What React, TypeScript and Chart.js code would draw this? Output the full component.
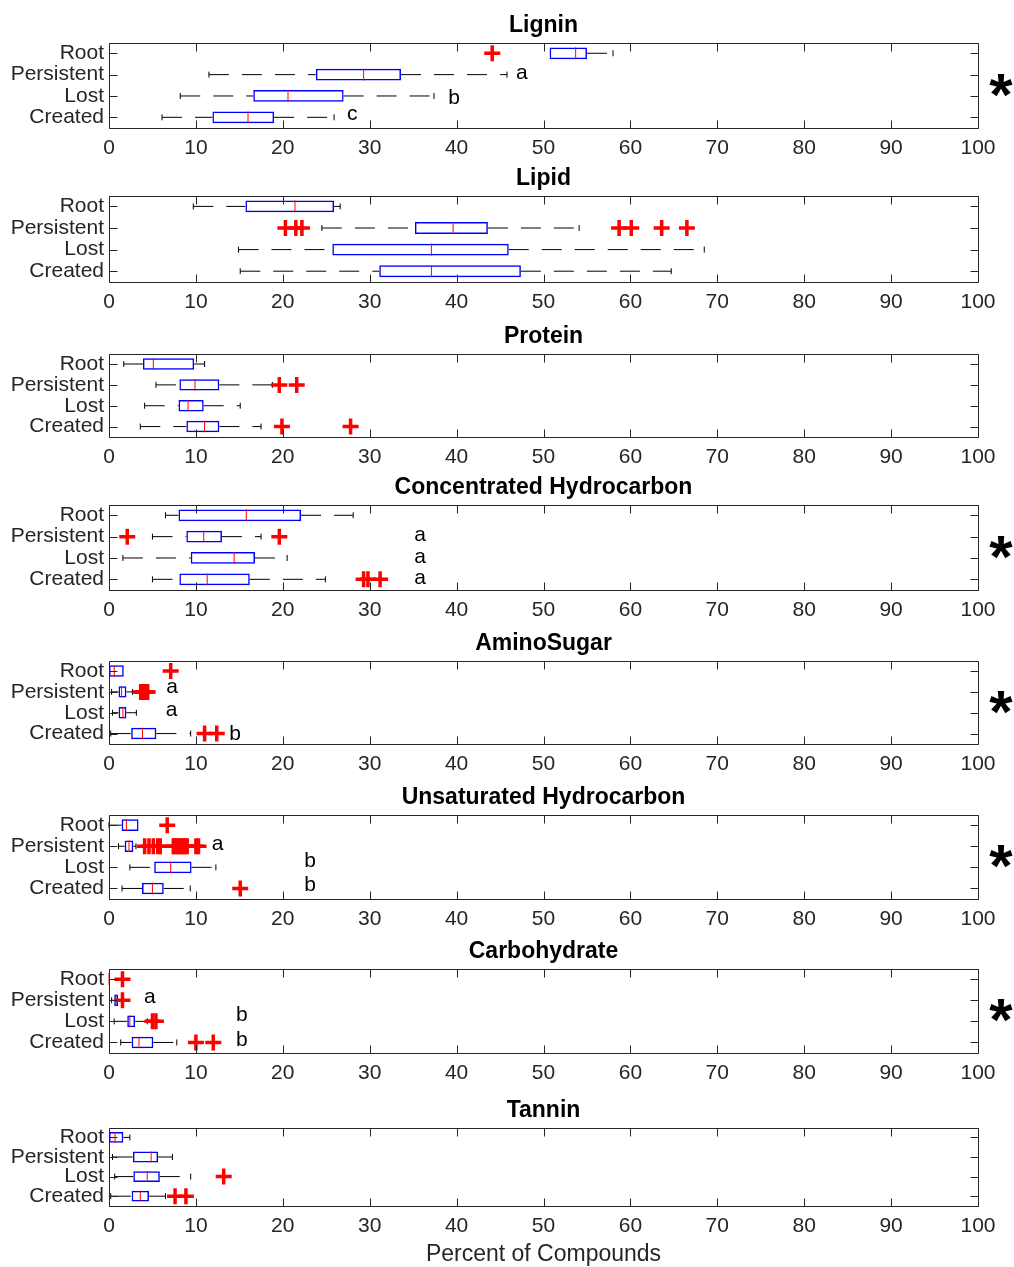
import React, { useEffect, useRef } from 'react';
import { Chart, registerables } from 'chart.js';

Chart.register(...registerables);

// ---------------- data ----------------
const categories = ['Root', 'Persistent', 'Lost', 'Created'];
const xMin = 0;
const xMax = 100;
const xStep = 10;
const xAxisLabel = 'Percent of Compounds';

const panelTitles = [
  'Lignin',
  'Lipid',
  'Protein',
  'Concentrated Hydrocarbon',
  'AminoSugar',
  'Unsaturated Hydrocarbon',
  'Carbohydrate',
  'Tannin',
];

// each row: [lower whisker, q1, median, q3, upper whisker] for Root, Persistent, Lost, Created
const ligninStats = [
  [50.7, 50.7, 53.7, 55.0, 58.0],
  [11.5, 23.8, 29.3, 33.6, 45.8],
  [8.2, 16.6, 20.6, 27.0, 37.4],
  [6.1, 11.9, 16.0, 19.0, 25.9],
];
const ligninOutliers = [[44.1], [], [], []];
const ligninLetters: [string, number, number][] = [['a', 47.5, 0.91], ['b', 39.7, 2.1], ['c', 28.0, 2.85]];

const lipidStats = [
  [9.7, 15.7, 21.4, 25.9, 26.6],
  [24.5, 35.2, 39.6, 43.6, 54.1],
  [14.9, 25.7, 37.1, 46.0, 68.5],
  [15.1, 31.1, 37.1, 47.4, 64.7],
];
const lipidOutliers = [[], [20.3, 21.5, 22.2, 58.7, 60.1, 63.6, 66.5], [], []];
const lipidLetters: [string, number, number][] = [];

const proteinStats = [
  [1.7, 3.9, 5.1, 9.8, 11.0],
  [5.4, 8.1, 9.9, 12.7, 18.8],
  [4.1, 8.0, 9.1, 10.9, 15.1],
  [3.6, 8.9, 11.0, 12.7, 17.5],
];
const proteinOutliers = [[], [19.6, 21.6], [], [19.9, 27.8]];
const proteinLetters: [string, number, number][] = [];

const concHydroStats = [
  [6.5, 8.0, 15.8, 22.1, 28.1],
  [5.0, 8.9, 10.9, 13.0, 17.5],
  [1.6, 9.4, 14.4, 16.8, 20.5],
  [5.0, 8.1, 11.3, 16.2, 24.9],
];
const concHydroOutliers = [[], [2.1, 19.6], [], [29.3, 29.8, 31.2]];
const concHydroLetters: [string, number, number][] = [['a', 35.8, 0.91], ['a', 35.8, 1.96], ['a', 35.8, 2.97]];

const aminoStats = [
  [0.0, 0.0, 0.6, 1.7, 1.7],
  [0.3, 1.1, 1.45, 2.0, 2.7],
  [0.4, 1.1, 1.6, 2.0, 3.15],
  [0.2, 2.55, 3.85, 5.45, 9.4],
];
const aminoOutliers = [[7.1], [3.65, 3.85, 4.0, 4.15, 4.3, 4.45], [], [11.0, 12.4]];
const aminoLetters: [string, number, number][] = [['a', 7.25, 0.78], ['a', 7.2, 1.9], ['b', 14.5, 3.02]];

const unsatHydroStats = [
  [0.0, 1.45, 2.0, 3.4, 3.4],
  [1.1, 1.8, 2.3, 2.8, 3.1],
  [2.4, 5.2, 7.1, 9.5, 12.3],
  [1.5, 3.8, 5.0, 6.3, 9.35],
];
const unsatHydroOutliers = [
  [6.7],
  [4.1, 4.6, 5.1, 5.6, 5.9, 7.4, 7.6, 7.8, 8.0, 8.2, 8.4, 8.6, 8.8, 9.0, 10.0, 10.3],
  [],
  [15.1],
];
const unsatHydroLetters: [string, number, number][] = [['a', 12.5, 0.9], ['b', 23.15, 1.7], ['b', 23.15, 2.85]];

const carbStats = [
  [0.0, 0.0, 0.0, 0.0, 0.0],
  [0.3, 0.6, 0.77, 1.04, 1.04],
  [0.6, 2.1, 2.4, 3.0, 4.4],
  [1.35, 2.6, 3.45, 5.1, 7.8],
];
const carbOutliers = [[1.55], [1.55], [5.0, 5.4], [10.0, 12.0]];
const carbLetters: [string, number, number][] = [['a', 4.7, 0.85], ['b', 15.3, 1.7], ['b', 15.3, 2.88]];

const tanninStats = [
  [0.0, 0.0, 0.7, 1.65, 2.4],
  [0.4, 2.75, 4.85, 5.65, 7.3],
  [0.65, 2.8, 4.4, 5.85, 9.4],
  [0.2, 2.6, 3.6, 4.6, 6.5],
];
const tanninOutliers = [[], [], [13.2], [7.6, 8.85]];
const tanninLetters: [string, number, number][] = [];

const panelStats = [ligninStats, lipidStats, proteinStats, concHydroStats, aminoStats, unsatHydroStats, carbStats, tanninStats];
const panelOutliers = [ligninOutliers, lipidOutliers, proteinOutliers, concHydroOutliers, aminoOutliers, unsatHydroOutliers, carbOutliers, tanninOutliers];
const panelLetters = [ligninLetters, lipidLetters, proteinLetters, concHydroLetters, aminoLetters, unsatHydroLetters, carbLetters, tanninLetters];
const panelSignificant = [true, false, false, true, true, true, true, false];

// ---------------- layout / style ----------------
const PLOT_TOPS = [42, 195, 353, 504, 660, 814, 968, 1127];
const PLOT_HEIGHTS = [86, 87, 84, 86, 84, 85, 85, 79];
const WIDTH = 1014;
const LEFT = 109;
const RIGHT_PAD = 36;
const TITLE_SPACE = 30;
const FONT = '"Liberation Sans", Arial, Helvetica, sans-serif';
const AXIS_COLOR = '#262626';

const decorPlugin = {
  id: 'decor',
  afterDraw(chart: any, _args: any, opts: any) {
    const { ctx, chartArea: a, scales } = chart;
    const xs = scales.x;
    const ys = scales.y;
    ctx.save();
    ctx.strokeStyle = AXIS_COLOR;
    ctx.lineWidth = 1;
    const L = Math.round(a.left) + 0.5;
    const R = Math.round(a.right) + 0.5;
    const T = Math.round(a.top) + 0.5;
    const B = Math.round(a.bottom) + 0.5;
    ctx.beginPath();
    ctx.rect(L, T, R - L, B - T);
    for (const t of xs.ticks) {
      const px = Math.round(xs.getPixelForValue(t.value)) + 0.5;
      ctx.moveTo(px, T);
      ctx.lineTo(px, T + 8);
      ctx.moveTo(px, B);
      ctx.lineTo(px, B - 8);
    }
    for (let i = 0; i < categories.length; i++) {
      const py = Math.round(ys.getPixelForValue(i)) + 0.5;
      ctx.moveTo(L, py);
      ctx.lineTo(L + 8, py);
      ctx.moveTo(R, py);
      ctx.lineTo(R - 8, py);
    }
    ctx.stroke();

    ctx.fillStyle = '#000';
    ctx.font = `21px ${FONT}`;
    ctx.textAlign = 'center';
    ctx.textBaseline = 'middle';
    for (const [txt, xv, row] of opts.letters || []) {
      ctx.fillText(txt, xs.getPixelForValue(xv), ys.getPixelForValue(row));
    }
    if (opts.star) {
      ctx.font = `bold 60px ${FONT}`;
      ctx.textBaseline = 'alphabetic';
      ctx.fillText('*', a.right + 23, (a.top + a.bottom) / 2 + 29.5);
    }
    ctx.restore();
  },
};

function Panel({ index }: { index: number }) {
  const ref = useRef<HTMLCanvasElement>(null);
  const isLast = index === panelTitles.length - 1;
  const plotH = PLOT_HEIGHTS[index];
  const axisH = isLast ? 62 : 30;
  const canvasH = TITLE_SPACE + plotH + axisH;
  const canvasTop = PLOT_TOPS[index] - TITLE_SPACE;

  useEffect(() => {
    const canvas = ref.current!;
    const stats = panelStats[index];
    const outliers = panelOutliers[index];
    const boxHalf = (plotH / categories.length) * 0.55 / 2;

    const boxData = stats.map((s) => [s[1], s[3]]);
    const medianData = stats.map((s, i) => ({ x: s[2], y: categories[i] }));
    const capData: { x: number; y: string }[] = [];
    stats.forEach((s, i) => {
      if (s[0] < s[1]) capData.push({ x: s[0], y: categories[i] });
      if (s[4] > s[3]) capData.push({ x: s[4], y: categories[i] });
    });
    const outlierData: { x: number; y: string }[] = [];
    outliers.forEach((arr, i) => arr.forEach((v) => outlierData.push({ x: v, y: categories[i] })));

    const whiskerSets: any[] = [];
    stats.forEach((s, i) => {
      whiskerSets.push({
        type: 'line',
        data: [{ x: s[0], y: categories[i] }, { x: s[1], y: categories[i] }],
        borderColor: '#000',
        borderWidth: 1,
        borderDash: [20, 13],
        pointRadius: 0,
        fill: false,
        tension: 0,
        clip: false,
      });
      whiskerSets.push({
        type: 'line',
        data: [{ x: s[3], y: categories[i] }, { x: s[4], y: categories[i] }],
        borderColor: '#000',
        borderWidth: 1,
        borderDash: [20, 13],
        pointRadius: 0,
        fill: false,
        tension: 0,
        clip: false,
      });
    });

    const chart = new Chart(canvas, {
      type: 'bar',
      data: {
        labels: categories,
        datasets: [
          {
            type: 'scatter',
            data: outlierData,
            pointStyle: 'cross',
            pointRadius: 8,
            pointBorderWidth: 3.5,
            borderColor: '#ff0000',
            backgroundColor: '#ff0000',
            clip: false,
          } as any,
          {
            type: 'scatter',
            data: medianData,
            pointStyle: 'line',
            rotation: 90,
            pointRadius: boxHalf,
            pointBorderWidth: 1,
            borderColor: '#ff0000',
            backgroundColor: '#ff0000',
            clip: false,
          } as any,
          {
            type: 'bar',
            indexAxis: 'y',
            data: boxData,
            borderColor: '#0000ff',
            backgroundColor: 'rgba(0,0,0,0)',
            borderWidth: 1.5,
            borderSkipped: false,
            categoryPercentage: 1,
            barPercentage: 0.55,
          } as any,
          {
            type: 'scatter',
            data: capData,
            pointStyle: 'line',
            rotation: 90,
            pointRadius: 3,
            pointBorderWidth: 1,
            borderColor: '#000',
            backgroundColor: '#000',
            clip: false,
          } as any,
          ...whiskerSets,
        ],
      },
      options: {
        responsive: false,
        maintainAspectRatio: false,
        animation: false,
        events: [],
        layout: { padding: { left: 0, right: RIGHT_PAD, top: 0, bottom: 0 } },
        scales: {
          x: {
            type: 'linear',
            position: 'bottom',
            offset: false,
            min: xMin,
            max: xMax,
            grid: { display: false, drawTicks: false, offset: false },
            border: { display: false },
            ticks: {
              stepSize: xStep,
              padding: 8,
              color: AXIS_COLOR,
              font: { family: FONT, size: 21 },
              maxRotation: 0,
              autoSkip: false,
            },
            title: {
              display: isLast,
              text: xAxisLabel,
              color: AXIS_COLOR,
              font: { family: FONT, size: 23 },
              padding: { top: 0, bottom: 0 },
            },
            afterFit: (scale: any) => {
              scale.height = axisH;
            },
          },
          y: {
            type: 'category',
            labels: categories,
            offset: true,
            grid: { display: false, drawTicks: false },
            border: { display: false },
            ticks: {
              padding: 5,
              color: AXIS_COLOR,
              font: { family: FONT, size: 21 },
              autoSkip: false,
            },
            afterFit: (scale: any) => {
              scale.width = LEFT;
            },
          },
        },
        plugins: {
          legend: { display: false },
          tooltip: { enabled: false },
          title: {
            display: true,
            text: panelTitles[index],
            fullSize: false,
            color: '#000',
            font: { family: FONT, size: 23, weight: 'bold' },
            padding: { top: 0, bottom: 3 },
          },
          decor: { letters: panelLetters[index], star: panelSignificant[index] },
        } as any,
      },
      plugins: [decorPlugin],
    } as any);
    return () => chart.destroy();
  }, [index]);

  return (
    <canvas
      ref={ref}
      width={WIDTH}
      height={canvasH}
      style={{ position: 'absolute', left: 0, top: canvasTop, width: WIDTH, height: canvasH, display: 'block' }}
    />
  );
}

export default function App() {
  return (
    <div style={{ position: 'absolute', left: 0, top: 0, width: WIDTH, height: 1267, background: '#fff', overflow: 'hidden' }}>
      {panelTitles.map((_, i) => (
        <Panel key={i} index={i} />
      ))}
    </div>
  );
}
